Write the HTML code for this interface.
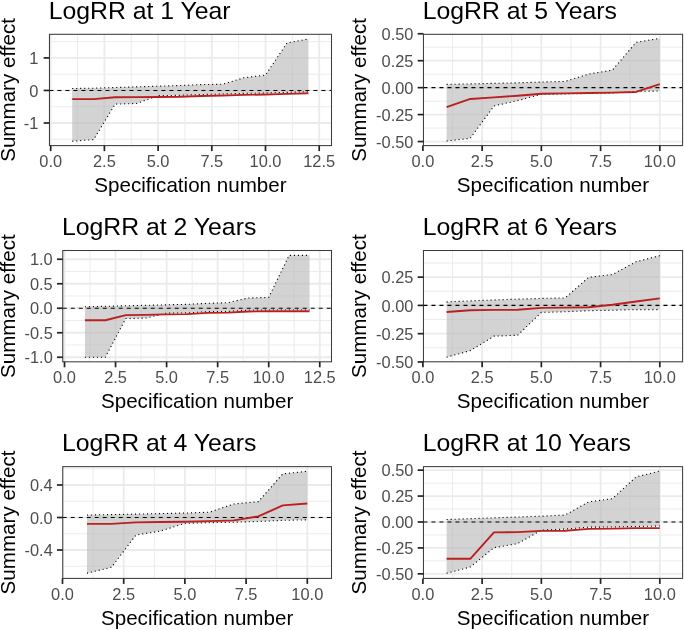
<!DOCTYPE html>
<html><head><meta charset="utf-8"><title>LogRR specification curves</title>
<style>html,body{margin:0;padding:0;background:#fff}svg{display:block;will-change:transform}text{font-family:"Liberation Sans",sans-serif}</style></head><body>
<svg width="685" height="630" viewBox="0 0 685 630">
<rect width="685" height="630" fill="#fff"/>
<g id="panel1">
<clipPath id="c0"><rect x="49.45" y="34.3" width="282.05" height="111.3"/></clipPath>
<g clip-path="url(#c0)">
<line x1="77.55" x2="77.55" y1="34.3" y2="145.6" stroke="#ebebeb" stroke-width="0.95"/>
<line x1="131.25" x2="131.25" y1="34.3" y2="145.6" stroke="#ebebeb" stroke-width="0.95"/>
<line x1="184.95" x2="184.95" y1="34.3" y2="145.6" stroke="#ebebeb" stroke-width="0.95"/>
<line x1="238.65" x2="238.65" y1="34.3" y2="145.6" stroke="#ebebeb" stroke-width="0.95"/>
<line x1="292.35" x2="292.35" y1="34.3" y2="145.6" stroke="#ebebeb" stroke-width="0.95"/>
<line y1="41.63" y2="41.63" x1="49.45" x2="331.5" stroke="#ebebeb" stroke-width="0.95"/>
<line y1="74.18" y2="74.18" x1="49.45" x2="331.5" stroke="#ebebeb" stroke-width="0.95"/>
<line y1="106.72" y2="106.72" x1="49.45" x2="331.5" stroke="#ebebeb" stroke-width="0.95"/>
<line y1="139.28" y2="139.28" x1="49.45" x2="331.5" stroke="#ebebeb" stroke-width="0.95"/>
<line x1="50.7" x2="50.7" y1="34.3" y2="145.6" stroke="#ebebeb" stroke-width="1.8"/>
<line x1="104.4" x2="104.4" y1="34.3" y2="145.6" stroke="#ebebeb" stroke-width="1.8"/>
<line x1="158.1" x2="158.1" y1="34.3" y2="145.6" stroke="#ebebeb" stroke-width="1.8"/>
<line x1="211.8" x2="211.8" y1="34.3" y2="145.6" stroke="#ebebeb" stroke-width="1.8"/>
<line x1="265.5" x2="265.5" y1="34.3" y2="145.6" stroke="#ebebeb" stroke-width="1.8"/>
<line x1="319.2" x2="319.2" y1="34.3" y2="145.6" stroke="#ebebeb" stroke-width="1.8"/>
<line y1="57.9" y2="57.9" x1="49.45" x2="331.5" stroke="#ebebeb" stroke-width="1.8"/>
<line y1="90.45" y2="90.45" x1="49.45" x2="331.5" stroke="#ebebeb" stroke-width="1.8"/>
<line y1="123" y2="123" x1="49.45" x2="331.5" stroke="#ebebeb" stroke-width="1.8"/>
<polygon points="72.18,88.56 93.66,88.17 115.14,87.52 136.62,86.87 158.1,86.22 179.58,85.57 201.06,84.59 222.54,84.27 244.02,77.76 265.5,75.15 286.98,42.93 308.46,39.02 308.46,91.75 286.98,92.4 265.5,93.05 244.02,93.38 222.54,94.03 201.06,94.52 179.58,95.33 158.1,95.66 136.62,103.47 115.14,104.12 93.66,139.6 72.18,141.23" fill="#b8b8b8" fill-opacity="0.62"/>
<line x1="49.45" x2="331.5" y1="90.45" y2="90.45" stroke="#000" stroke-width="1.1" stroke-dasharray="4 4"/>
<polyline points="72.18,88.56 93.66,88.17 115.14,87.52 136.62,86.87 158.1,86.22 179.58,85.57 201.06,84.59 222.54,84.27 244.02,77.76 265.5,75.15 286.98,42.93 308.46,39.02" fill="none" stroke="#000" stroke-width="1.1" stroke-dasharray="1.1 2.9"/>
<polyline points="72.18,141.23 93.66,139.6 115.14,104.12 136.62,103.47 158.1,95.66 179.58,95.33 201.06,94.52 222.54,94.03 244.02,93.38 265.5,93.05 286.98,92.4 308.46,91.75" fill="none" stroke="#000" stroke-width="1.1" stroke-dasharray="1.1 2.9"/>
<polyline points="72.18,99.08 93.66,99.08 115.14,97.29 136.62,97.12 158.1,96.96 179.58,96.8 201.06,95.98 222.54,95.5 244.02,94.84 265.5,94.52 286.98,93.87 308.46,93.22" fill="none" stroke="#ba2020" stroke-width="1.9" stroke-linejoin="round"/>
</g>
<rect x="49.45" y="34.3" width="282.05" height="111.3" fill="none" stroke="#3d3d3d" stroke-width="1.05"/>
<line x1="50.7" x2="50.7" y1="145.6" y2="151.1" stroke="#222" stroke-width="1.7"/>
<text x="50.7" y="167.1" font-size="16.4" fill="#4d4d4d" text-anchor="middle">0.0</text>
<line x1="104.4" x2="104.4" y1="145.6" y2="151.1" stroke="#222" stroke-width="1.7"/>
<text x="104.4" y="167.1" font-size="16.4" fill="#4d4d4d" text-anchor="middle">2.5</text>
<line x1="158.1" x2="158.1" y1="145.6" y2="151.1" stroke="#222" stroke-width="1.7"/>
<text x="158.1" y="167.1" font-size="16.4" fill="#4d4d4d" text-anchor="middle">5.0</text>
<line x1="211.8" x2="211.8" y1="145.6" y2="151.1" stroke="#222" stroke-width="1.7"/>
<text x="211.8" y="167.1" font-size="16.4" fill="#4d4d4d" text-anchor="middle">7.5</text>
<line x1="265.5" x2="265.5" y1="145.6" y2="151.1" stroke="#222" stroke-width="1.7"/>
<text x="265.5" y="167.1" font-size="16.4" fill="#4d4d4d" text-anchor="middle">10.0</text>
<line x1="319.2" x2="319.2" y1="145.6" y2="151.1" stroke="#222" stroke-width="1.7"/>
<text x="319.2" y="167.1" font-size="16.4" fill="#4d4d4d" text-anchor="middle">12.5</text>
<line y1="57.9" y2="57.9" x1="43.65" x2="49.45" stroke="#222" stroke-width="1.7"/>
<text x="38.45" y="64.1" font-size="16.4" fill="#4d4d4d" text-anchor="end">1</text>
<line y1="90.45" y2="90.45" x1="43.65" x2="49.45" stroke="#222" stroke-width="1.7"/>
<text x="38.45" y="96.65" font-size="16.4" fill="#4d4d4d" text-anchor="end">0</text>
<line y1="123" y2="123" x1="43.65" x2="49.45" stroke="#222" stroke-width="1.7"/>
<text x="38.45" y="129.2" font-size="16.4" fill="#4d4d4d" text-anchor="end">-1</text>
<text x="48.65" y="19" font-size="24.8" fill="#000">LogRR at 1 Year</text>
<text x="190.47" y="192.1" font-size="20.6" fill="#000" text-anchor="middle">Specification number</text>
<text transform="translate(14.9,89.95) rotate(-90)" font-size="20.6" fill="#000" text-anchor="middle">Summary effect</text>
</g>
<g id="panel2">
<clipPath id="c1"><rect x="423.45" y="34.3" width="259.15" height="111.3"/></clipPath>
<g clip-path="url(#c1)">
<line x1="452.51" x2="452.51" y1="34.3" y2="145.6" stroke="#ebebeb" stroke-width="0.95"/>
<line x1="511.74" x2="511.74" y1="34.3" y2="145.6" stroke="#ebebeb" stroke-width="0.95"/>
<line x1="570.96" x2="570.96" y1="34.3" y2="145.6" stroke="#ebebeb" stroke-width="0.95"/>
<line x1="630.19" x2="630.19" y1="34.3" y2="145.6" stroke="#ebebeb" stroke-width="0.95"/>
<line y1="47.23" y2="47.23" x1="423.45" x2="682.6" stroke="#ebebeb" stroke-width="0.95"/>
<line y1="74.18" y2="74.18" x1="423.45" x2="682.6" stroke="#ebebeb" stroke-width="0.95"/>
<line y1="101.12" y2="101.12" x1="423.45" x2="682.6" stroke="#ebebeb" stroke-width="0.95"/>
<line y1="128.07" y2="128.07" x1="423.45" x2="682.6" stroke="#ebebeb" stroke-width="0.95"/>
<line x1="422.9" x2="422.9" y1="34.3" y2="145.6" stroke="#ebebeb" stroke-width="1.8"/>
<line x1="482.12" x2="482.12" y1="34.3" y2="145.6" stroke="#ebebeb" stroke-width="1.8"/>
<line x1="541.35" x2="541.35" y1="34.3" y2="145.6" stroke="#ebebeb" stroke-width="1.8"/>
<line x1="600.58" x2="600.58" y1="34.3" y2="145.6" stroke="#ebebeb" stroke-width="1.8"/>
<line x1="659.8" x2="659.8" y1="34.3" y2="145.6" stroke="#ebebeb" stroke-width="1.8"/>
<line y1="33.75" y2="33.75" x1="423.45" x2="682.6" stroke="#ebebeb" stroke-width="1.8"/>
<line y1="60.7" y2="60.7" x1="423.45" x2="682.6" stroke="#ebebeb" stroke-width="1.8"/>
<line y1="87.65" y2="87.65" x1="423.45" x2="682.6" stroke="#ebebeb" stroke-width="1.8"/>
<line y1="114.6" y2="114.6" x1="423.45" x2="682.6" stroke="#ebebeb" stroke-width="1.8"/>
<line y1="141.55" y2="141.55" x1="423.45" x2="682.6" stroke="#ebebeb" stroke-width="1.8"/>
<polygon points="446.59,84.42 470.28,83.88 493.97,83.34 517.66,82.8 541.35,82.04 565.04,81.4 588.73,74.07 612.42,70.08 636.11,42.37 659.8,38.28 659.8,90.99 636.11,91.42 612.42,93.04 588.73,93.47 565.04,93.9 541.35,94.33 517.66,100.59 493.97,105.98 470.28,138.32 446.59,141.01" fill="#b8b8b8" fill-opacity="0.62"/>
<line x1="423.45" x2="682.6" y1="87.65" y2="87.65" stroke="#000" stroke-width="1.1" stroke-dasharray="4 4"/>
<polyline points="446.59,84.42 470.28,83.88 493.97,83.34 517.66,82.8 541.35,82.04 565.04,81.4 588.73,74.07 612.42,70.08 636.11,42.37 659.8,38.28" fill="none" stroke="#000" stroke-width="1.1" stroke-dasharray="1.1 2.9"/>
<polyline points="446.59,141.01 470.28,138.32 493.97,105.98 517.66,100.59 541.35,94.33 565.04,93.9 588.73,93.47 612.42,93.04 636.11,91.42 659.8,90.99" fill="none" stroke="#000" stroke-width="1.1" stroke-dasharray="1.1 2.9"/>
<polyline points="446.59,107.05 470.28,98.97 493.97,97.35 517.66,95.73 541.35,93.79 565.04,93.36 588.73,93.04 612.42,92.61 636.11,91.96 659.8,84.2" fill="none" stroke="#ba2020" stroke-width="1.9" stroke-linejoin="round"/>
</g>
<rect x="423.45" y="34.3" width="259.15" height="111.3" fill="none" stroke="#3d3d3d" stroke-width="1.05"/>
<line x1="422.9" x2="422.9" y1="145.6" y2="151.1" stroke="#222" stroke-width="1.7"/>
<text x="422.9" y="167.1" font-size="16.4" fill="#4d4d4d" text-anchor="middle">0.0</text>
<line x1="482.12" x2="482.12" y1="145.6" y2="151.1" stroke="#222" stroke-width="1.7"/>
<text x="482.12" y="167.1" font-size="16.4" fill="#4d4d4d" text-anchor="middle">2.5</text>
<line x1="541.35" x2="541.35" y1="145.6" y2="151.1" stroke="#222" stroke-width="1.7"/>
<text x="541.35" y="167.1" font-size="16.4" fill="#4d4d4d" text-anchor="middle">5.0</text>
<line x1="600.58" x2="600.58" y1="145.6" y2="151.1" stroke="#222" stroke-width="1.7"/>
<text x="600.58" y="167.1" font-size="16.4" fill="#4d4d4d" text-anchor="middle">7.5</text>
<line x1="659.8" x2="659.8" y1="145.6" y2="151.1" stroke="#222" stroke-width="1.7"/>
<text x="659.8" y="167.1" font-size="16.4" fill="#4d4d4d" text-anchor="middle">10.0</text>
<line y1="33.75" y2="33.75" x1="417.65" x2="423.45" stroke="#222" stroke-width="1.7"/>
<text x="413.45" y="39.95" font-size="16.4" fill="#4d4d4d" text-anchor="end">0.50</text>
<line y1="60.7" y2="60.7" x1="417.65" x2="423.45" stroke="#222" stroke-width="1.7"/>
<text x="413.45" y="66.9" font-size="16.4" fill="#4d4d4d" text-anchor="end">0.25</text>
<line y1="87.65" y2="87.65" x1="417.65" x2="423.45" stroke="#222" stroke-width="1.7"/>
<text x="413.45" y="93.85" font-size="16.4" fill="#4d4d4d" text-anchor="end">0.00</text>
<line y1="114.6" y2="114.6" x1="417.65" x2="423.45" stroke="#222" stroke-width="1.7"/>
<text x="413.45" y="120.8" font-size="16.4" fill="#4d4d4d" text-anchor="end">-0.25</text>
<line y1="141.55" y2="141.55" x1="417.65" x2="423.45" stroke="#222" stroke-width="1.7"/>
<text x="413.45" y="147.75" font-size="16.4" fill="#4d4d4d" text-anchor="end">-0.50</text>
<text x="422.65" y="19" font-size="24.8" fill="#000">LogRR at 5 Years</text>
<text x="553.02" y="192.1" font-size="20.6" fill="#000" text-anchor="middle">Specification number</text>
<text transform="translate(366.4,89.95) rotate(-90)" font-size="20.6" fill="#000" text-anchor="middle">Summary effect</text>
</g>
<g id="panel3">
<clipPath id="c2"><rect x="62.75" y="250.5" width="268.75" height="111.3"/></clipPath>
<g clip-path="url(#c2)">
<line x1="90.03" x2="90.03" y1="250.5" y2="361.8" stroke="#ebebeb" stroke-width="0.95"/>
<line x1="141.07" x2="141.07" y1="250.5" y2="361.8" stroke="#ebebeb" stroke-width="0.95"/>
<line x1="192.12" x2="192.12" y1="250.5" y2="361.8" stroke="#ebebeb" stroke-width="0.95"/>
<line x1="243.18" x2="243.18" y1="250.5" y2="361.8" stroke="#ebebeb" stroke-width="0.95"/>
<line x1="294.23" x2="294.23" y1="250.5" y2="361.8" stroke="#ebebeb" stroke-width="0.95"/>
<line y1="271.5" y2="271.5" x1="62.75" x2="331.5" stroke="#ebebeb" stroke-width="0.95"/>
<line y1="296" y2="296" x1="62.75" x2="331.5" stroke="#ebebeb" stroke-width="0.95"/>
<line y1="320.5" y2="320.5" x1="62.75" x2="331.5" stroke="#ebebeb" stroke-width="0.95"/>
<line y1="345" y2="345" x1="62.75" x2="331.5" stroke="#ebebeb" stroke-width="0.95"/>
<line x1="64.5" x2="64.5" y1="250.5" y2="361.8" stroke="#ebebeb" stroke-width="1.8"/>
<line x1="115.55" x2="115.55" y1="250.5" y2="361.8" stroke="#ebebeb" stroke-width="1.8"/>
<line x1="166.6" x2="166.6" y1="250.5" y2="361.8" stroke="#ebebeb" stroke-width="1.8"/>
<line x1="217.65" x2="217.65" y1="250.5" y2="361.8" stroke="#ebebeb" stroke-width="1.8"/>
<line x1="268.7" x2="268.7" y1="250.5" y2="361.8" stroke="#ebebeb" stroke-width="1.8"/>
<line x1="319.75" x2="319.75" y1="250.5" y2="361.8" stroke="#ebebeb" stroke-width="1.8"/>
<line y1="259.25" y2="259.25" x1="62.75" x2="331.5" stroke="#ebebeb" stroke-width="1.8"/>
<line y1="283.75" y2="283.75" x1="62.75" x2="331.5" stroke="#ebebeb" stroke-width="1.8"/>
<line y1="308.25" y2="308.25" x1="62.75" x2="331.5" stroke="#ebebeb" stroke-width="1.8"/>
<line y1="332.75" y2="332.75" x1="62.75" x2="331.5" stroke="#ebebeb" stroke-width="1.8"/>
<line y1="357.25" y2="357.25" x1="62.75" x2="331.5" stroke="#ebebeb" stroke-width="1.8"/>
<polygon points="84.92,306.78 105.34,306.29 125.76,305.8 146.18,305.31 166.6,304.82 187.02,304.33 207.44,303.35 227.86,302.66 248.28,297.96 268.7,297.47 289.12,255.33 309.54,255.33 309.54,310.06 289.12,310.06 268.7,310.06 248.28,310.21 227.86,311.44 207.44,311.68 187.02,312.9 166.6,313.15 146.18,318.05 125.76,318.54 105.34,357.25 84.92,357.25" fill="#b8b8b8" fill-opacity="0.62"/>
<line x1="62.75" x2="331.5" y1="308.25" y2="308.25" stroke="#000" stroke-width="1.1" stroke-dasharray="4 4"/>
<polyline points="84.92,306.78 105.34,306.29 125.76,305.8 146.18,305.31 166.6,304.82 187.02,304.33 207.44,303.35 227.86,302.66 248.28,297.96 268.7,297.47 289.12,255.33 309.54,255.33" fill="none" stroke="#000" stroke-width="1.1" stroke-dasharray="1.1 2.9"/>
<polyline points="84.92,357.25 105.34,357.25 125.76,318.54 146.18,318.05 166.6,313.15 187.02,312.9 207.44,311.68 227.86,311.44 248.28,310.21 268.7,310.06 289.12,310.06 309.54,310.06" fill="none" stroke="#000" stroke-width="1.1" stroke-dasharray="1.1 2.9"/>
<polyline points="84.92,320.25 105.34,320.25 125.76,315.11 146.18,314.87 166.6,314.38 187.02,314.13 207.44,312.9 227.86,312.66 248.28,311.44 268.7,311.29 289.12,311.29 309.54,311.29" fill="none" stroke="#ba2020" stroke-width="1.9" stroke-linejoin="round"/>
</g>
<rect x="62.75" y="250.5" width="268.75" height="111.3" fill="none" stroke="#3d3d3d" stroke-width="1.05"/>
<line x1="64.5" x2="64.5" y1="361.8" y2="367.3" stroke="#222" stroke-width="1.7"/>
<text x="64.5" y="383.3" font-size="16.4" fill="#4d4d4d" text-anchor="middle">0.0</text>
<line x1="115.55" x2="115.55" y1="361.8" y2="367.3" stroke="#222" stroke-width="1.7"/>
<text x="115.55" y="383.3" font-size="16.4" fill="#4d4d4d" text-anchor="middle">2.5</text>
<line x1="166.6" x2="166.6" y1="361.8" y2="367.3" stroke="#222" stroke-width="1.7"/>
<text x="166.6" y="383.3" font-size="16.4" fill="#4d4d4d" text-anchor="middle">5.0</text>
<line x1="217.65" x2="217.65" y1="361.8" y2="367.3" stroke="#222" stroke-width="1.7"/>
<text x="217.65" y="383.3" font-size="16.4" fill="#4d4d4d" text-anchor="middle">7.5</text>
<line x1="268.7" x2="268.7" y1="361.8" y2="367.3" stroke="#222" stroke-width="1.7"/>
<text x="268.7" y="383.3" font-size="16.4" fill="#4d4d4d" text-anchor="middle">10.0</text>
<line x1="319.75" x2="319.75" y1="361.8" y2="367.3" stroke="#222" stroke-width="1.7"/>
<text x="319.75" y="383.3" font-size="16.4" fill="#4d4d4d" text-anchor="middle">12.5</text>
<line y1="259.25" y2="259.25" x1="56.95" x2="62.75" stroke="#222" stroke-width="1.7"/>
<text x="52.75" y="265.45" font-size="16.4" fill="#4d4d4d" text-anchor="end">1.0</text>
<line y1="283.75" y2="283.75" x1="56.95" x2="62.75" stroke="#222" stroke-width="1.7"/>
<text x="52.75" y="289.95" font-size="16.4" fill="#4d4d4d" text-anchor="end">0.5</text>
<line y1="308.25" y2="308.25" x1="56.95" x2="62.75" stroke="#222" stroke-width="1.7"/>
<text x="52.75" y="314.45" font-size="16.4" fill="#4d4d4d" text-anchor="end">0.0</text>
<line y1="332.75" y2="332.75" x1="56.95" x2="62.75" stroke="#222" stroke-width="1.7"/>
<text x="52.75" y="338.95" font-size="16.4" fill="#4d4d4d" text-anchor="end">-0.5</text>
<line y1="357.25" y2="357.25" x1="56.95" x2="62.75" stroke="#222" stroke-width="1.7"/>
<text x="52.75" y="363.45" font-size="16.4" fill="#4d4d4d" text-anchor="end">-1.0</text>
<text x="61.95" y="235.2" font-size="24.8" fill="#000">LogRR at 2 Years</text>
<text x="197.12" y="408.3" font-size="20.6" fill="#000" text-anchor="middle">Specification number</text>
<text transform="translate(14.9,306.15) rotate(-90)" font-size="20.6" fill="#000" text-anchor="middle">Summary effect</text>
</g>
<g id="panel4">
<clipPath id="c3"><rect x="423.45" y="250.5" width="259.15" height="111.3"/></clipPath>
<g clip-path="url(#c3)">
<line x1="452.51" x2="452.51" y1="250.5" y2="361.8" stroke="#ebebeb" stroke-width="0.95"/>
<line x1="511.74" x2="511.74" y1="250.5" y2="361.8" stroke="#ebebeb" stroke-width="0.95"/>
<line x1="570.96" x2="570.96" y1="250.5" y2="361.8" stroke="#ebebeb" stroke-width="0.95"/>
<line x1="630.19" x2="630.19" y1="250.5" y2="361.8" stroke="#ebebeb" stroke-width="0.95"/>
<line y1="262.99" y2="262.99" x1="423.45" x2="682.6" stroke="#ebebeb" stroke-width="0.95"/>
<line y1="291.26" y2="291.26" x1="423.45" x2="682.6" stroke="#ebebeb" stroke-width="0.95"/>
<line y1="319.54" y2="319.54" x1="423.45" x2="682.6" stroke="#ebebeb" stroke-width="0.95"/>
<line y1="347.81" y2="347.81" x1="423.45" x2="682.6" stroke="#ebebeb" stroke-width="0.95"/>
<line x1="422.9" x2="422.9" y1="250.5" y2="361.8" stroke="#ebebeb" stroke-width="1.8"/>
<line x1="482.12" x2="482.12" y1="250.5" y2="361.8" stroke="#ebebeb" stroke-width="1.8"/>
<line x1="541.35" x2="541.35" y1="250.5" y2="361.8" stroke="#ebebeb" stroke-width="1.8"/>
<line x1="600.58" x2="600.58" y1="250.5" y2="361.8" stroke="#ebebeb" stroke-width="1.8"/>
<line x1="659.8" x2="659.8" y1="250.5" y2="361.8" stroke="#ebebeb" stroke-width="1.8"/>
<line y1="277.12" y2="277.12" x1="423.45" x2="682.6" stroke="#ebebeb" stroke-width="1.8"/>
<line y1="305.4" y2="305.4" x1="423.45" x2="682.6" stroke="#ebebeb" stroke-width="1.8"/>
<line y1="333.67" y2="333.67" x1="423.45" x2="682.6" stroke="#ebebeb" stroke-width="1.8"/>
<line y1="361.95" y2="361.95" x1="423.45" x2="682.6" stroke="#ebebeb" stroke-width="1.8"/>
<polygon points="446.59,301.89 470.28,300.88 493.97,299.97 517.66,299.18 541.35,298.39 565.04,297.94 588.73,277.35 612.42,274.52 636.11,261.74 659.8,255.64 659.8,309.58 636.11,309.58 612.42,310.26 588.73,310.72 565.04,311.73 541.35,312.41 517.66,335.26 493.97,336.16 470.28,350.64 446.59,357.2" fill="#b8b8b8" fill-opacity="0.62"/>
<line x1="423.45" x2="682.6" y1="305.4" y2="305.4" stroke="#000" stroke-width="1.1" stroke-dasharray="4 4"/>
<polyline points="446.59,301.89 470.28,300.88 493.97,299.97 517.66,299.18 541.35,298.39 565.04,297.94 588.73,277.35 612.42,274.52 636.11,261.74 659.8,255.64" fill="none" stroke="#000" stroke-width="1.1" stroke-dasharray="1.1 2.9"/>
<polyline points="446.59,357.2 470.28,350.64 493.97,336.16 517.66,335.26 541.35,312.41 565.04,311.73 588.73,310.72 612.42,310.26 636.11,309.58 659.8,309.58" fill="none" stroke="#000" stroke-width="1.1" stroke-dasharray="1.1 2.9"/>
<polyline points="446.59,311.96 470.28,310.26 493.97,309.92 517.66,309.81 541.35,307.89 565.04,307.66 588.73,307.21 612.42,304.72 636.11,301.44 659.8,298.39" fill="none" stroke="#ba2020" stroke-width="1.9" stroke-linejoin="round"/>
</g>
<rect x="423.45" y="250.5" width="259.15" height="111.3" fill="none" stroke="#3d3d3d" stroke-width="1.05"/>
<line x1="422.9" x2="422.9" y1="361.8" y2="367.3" stroke="#222" stroke-width="1.7"/>
<text x="422.9" y="383.3" font-size="16.4" fill="#4d4d4d" text-anchor="middle">0.0</text>
<line x1="482.12" x2="482.12" y1="361.8" y2="367.3" stroke="#222" stroke-width="1.7"/>
<text x="482.12" y="383.3" font-size="16.4" fill="#4d4d4d" text-anchor="middle">2.5</text>
<line x1="541.35" x2="541.35" y1="361.8" y2="367.3" stroke="#222" stroke-width="1.7"/>
<text x="541.35" y="383.3" font-size="16.4" fill="#4d4d4d" text-anchor="middle">5.0</text>
<line x1="600.58" x2="600.58" y1="361.8" y2="367.3" stroke="#222" stroke-width="1.7"/>
<text x="600.58" y="383.3" font-size="16.4" fill="#4d4d4d" text-anchor="middle">7.5</text>
<line x1="659.8" x2="659.8" y1="361.8" y2="367.3" stroke="#222" stroke-width="1.7"/>
<text x="659.8" y="383.3" font-size="16.4" fill="#4d4d4d" text-anchor="middle">10.0</text>
<line y1="277.12" y2="277.12" x1="417.65" x2="423.45" stroke="#222" stroke-width="1.7"/>
<text x="413.45" y="283.32" font-size="16.4" fill="#4d4d4d" text-anchor="end">0.25</text>
<line y1="305.4" y2="305.4" x1="417.65" x2="423.45" stroke="#222" stroke-width="1.7"/>
<text x="413.45" y="311.6" font-size="16.4" fill="#4d4d4d" text-anchor="end">0.00</text>
<line y1="333.67" y2="333.67" x1="417.65" x2="423.45" stroke="#222" stroke-width="1.7"/>
<text x="413.45" y="339.87" font-size="16.4" fill="#4d4d4d" text-anchor="end">-0.25</text>
<line y1="361.95" y2="361.95" x1="417.65" x2="423.45" stroke="#222" stroke-width="1.7"/>
<text x="413.45" y="368.15" font-size="16.4" fill="#4d4d4d" text-anchor="end">-0.50</text>
<text x="422.65" y="235.2" font-size="24.8" fill="#000">LogRR at 6 Years</text>
<text x="553.02" y="408.3" font-size="20.6" fill="#000" text-anchor="middle">Specification number</text>
<text transform="translate(366.4,306.15) rotate(-90)" font-size="20.6" fill="#000" text-anchor="middle">Summary effect</text>
</g>
<g id="panel5">
<clipPath id="c4"><rect x="62.75" y="466.65" width="268.75" height="111.75"/></clipPath>
<g clip-path="url(#c4)">
<line x1="93.1" x2="93.1" y1="466.65" y2="578.4" stroke="#ebebeb" stroke-width="0.95"/>
<line x1="154.3" x2="154.3" y1="466.65" y2="578.4" stroke="#ebebeb" stroke-width="0.95"/>
<line x1="215.5" x2="215.5" y1="466.65" y2="578.4" stroke="#ebebeb" stroke-width="0.95"/>
<line x1="276.7" x2="276.7" y1="466.65" y2="578.4" stroke="#ebebeb" stroke-width="0.95"/>
<line y1="468.75" y2="468.75" x1="62.75" x2="331.5" stroke="#ebebeb" stroke-width="0.95"/>
<line y1="501.25" y2="501.25" x1="62.75" x2="331.5" stroke="#ebebeb" stroke-width="0.95"/>
<line y1="533.75" y2="533.75" x1="62.75" x2="331.5" stroke="#ebebeb" stroke-width="0.95"/>
<line y1="566.25" y2="566.25" x1="62.75" x2="331.5" stroke="#ebebeb" stroke-width="0.95"/>
<line x1="62.5" x2="62.5" y1="466.65" y2="578.4" stroke="#ebebeb" stroke-width="1.8"/>
<line x1="123.7" x2="123.7" y1="466.65" y2="578.4" stroke="#ebebeb" stroke-width="1.8"/>
<line x1="184.9" x2="184.9" y1="466.65" y2="578.4" stroke="#ebebeb" stroke-width="1.8"/>
<line x1="246.1" x2="246.1" y1="466.65" y2="578.4" stroke="#ebebeb" stroke-width="1.8"/>
<line x1="307.3" x2="307.3" y1="466.65" y2="578.4" stroke="#ebebeb" stroke-width="1.8"/>
<line y1="485" y2="485" x1="62.75" x2="331.5" stroke="#ebebeb" stroke-width="1.8"/>
<line y1="517.5" y2="517.5" x1="62.75" x2="331.5" stroke="#ebebeb" stroke-width="1.8"/>
<line y1="550" y2="550" x1="62.75" x2="331.5" stroke="#ebebeb" stroke-width="1.8"/>
<polygon points="86.98,515.06 111.46,514.58 135.94,514.09 160.42,513.6 184.9,513.03 209.38,512.22 233.86,504.01 258.34,501.66 282.82,473.87 307.3,471.27 307.3,519.86 282.82,520.34 258.34,521.48 233.86,522.21 209.38,522.7 184.9,523.35 160.42,531.07 135.94,535.05 111.46,567.31 86.98,573.16" fill="#b8b8b8" fill-opacity="0.62"/>
<line x1="62.75" x2="331.5" y1="517.5" y2="517.5" stroke="#000" stroke-width="1.1" stroke-dasharray="4 4"/>
<polyline points="86.98,515.06 111.46,514.58 135.94,514.09 160.42,513.6 184.9,513.03 209.38,512.22 233.86,504.01 258.34,501.66 282.82,473.87 307.3,471.27" fill="none" stroke="#000" stroke-width="1.1" stroke-dasharray="1.1 2.9"/>
<polyline points="86.98,573.16 111.46,567.31 135.94,535.05 160.42,531.07 184.9,523.35 209.38,522.7 233.86,522.21 258.34,521.48 282.82,520.34 307.3,519.86" fill="none" stroke="#000" stroke-width="1.1" stroke-dasharray="1.1 2.9"/>
<polyline points="86.98,523.84 111.46,523.84 135.94,522.38 160.42,522.05 184.9,521.73 209.38,521.08 233.86,520.34 258.34,516.36 282.82,505.39 307.3,503.52" fill="none" stroke="#ba2020" stroke-width="1.9" stroke-linejoin="round"/>
</g>
<rect x="62.75" y="466.65" width="268.75" height="111.75" fill="none" stroke="#3d3d3d" stroke-width="1.05"/>
<line x1="62.5" x2="62.5" y1="578.4" y2="583.9" stroke="#222" stroke-width="1.7"/>
<text x="62.5" y="599.9" font-size="16.4" fill="#4d4d4d" text-anchor="middle">0.0</text>
<line x1="123.7" x2="123.7" y1="578.4" y2="583.9" stroke="#222" stroke-width="1.7"/>
<text x="123.7" y="599.9" font-size="16.4" fill="#4d4d4d" text-anchor="middle">2.5</text>
<line x1="184.9" x2="184.9" y1="578.4" y2="583.9" stroke="#222" stroke-width="1.7"/>
<text x="184.9" y="599.9" font-size="16.4" fill="#4d4d4d" text-anchor="middle">5.0</text>
<line x1="246.1" x2="246.1" y1="578.4" y2="583.9" stroke="#222" stroke-width="1.7"/>
<text x="246.1" y="599.9" font-size="16.4" fill="#4d4d4d" text-anchor="middle">7.5</text>
<line x1="307.3" x2="307.3" y1="578.4" y2="583.9" stroke="#222" stroke-width="1.7"/>
<text x="307.3" y="599.9" font-size="16.4" fill="#4d4d4d" text-anchor="middle">10.0</text>
<line y1="485" y2="485" x1="56.95" x2="62.75" stroke="#222" stroke-width="1.7"/>
<text x="52.75" y="491.2" font-size="16.4" fill="#4d4d4d" text-anchor="end">0.4</text>
<line y1="517.5" y2="517.5" x1="56.95" x2="62.75" stroke="#222" stroke-width="1.7"/>
<text x="52.75" y="523.7" font-size="16.4" fill="#4d4d4d" text-anchor="end">0.0</text>
<line y1="550" y2="550" x1="56.95" x2="62.75" stroke="#222" stroke-width="1.7"/>
<text x="52.75" y="556.2" font-size="16.4" fill="#4d4d4d" text-anchor="end">-0.4</text>
<text x="61.95" y="451.35" font-size="24.8" fill="#000">LogRR at 4 Years</text>
<text x="197.12" y="624.9" font-size="20.6" fill="#000" text-anchor="middle">Specification number</text>
<text transform="translate(14.9,522.52) rotate(-90)" font-size="20.6" fill="#000" text-anchor="middle">Summary effect</text>
</g>
<g id="panel6">
<clipPath id="c5"><rect x="423.45" y="466.65" width="259.15" height="111.75"/></clipPath>
<g clip-path="url(#c5)">
<line x1="452.51" x2="452.51" y1="466.65" y2="578.4" stroke="#ebebeb" stroke-width="0.95"/>
<line x1="511.74" x2="511.74" y1="466.65" y2="578.4" stroke="#ebebeb" stroke-width="0.95"/>
<line x1="570.96" x2="570.96" y1="466.65" y2="578.4" stroke="#ebebeb" stroke-width="0.95"/>
<line x1="630.19" x2="630.19" y1="466.65" y2="578.4" stroke="#ebebeb" stroke-width="0.95"/>
<line y1="483.11" y2="483.11" x1="423.45" x2="682.6" stroke="#ebebeb" stroke-width="0.95"/>
<line y1="509.04" y2="509.04" x1="423.45" x2="682.6" stroke="#ebebeb" stroke-width="0.95"/>
<line y1="534.96" y2="534.96" x1="423.45" x2="682.6" stroke="#ebebeb" stroke-width="0.95"/>
<line y1="560.89" y2="560.89" x1="423.45" x2="682.6" stroke="#ebebeb" stroke-width="0.95"/>
<line x1="422.9" x2="422.9" y1="466.65" y2="578.4" stroke="#ebebeb" stroke-width="1.8"/>
<line x1="482.12" x2="482.12" y1="466.65" y2="578.4" stroke="#ebebeb" stroke-width="1.8"/>
<line x1="541.35" x2="541.35" y1="466.65" y2="578.4" stroke="#ebebeb" stroke-width="1.8"/>
<line x1="600.58" x2="600.58" y1="466.65" y2="578.4" stroke="#ebebeb" stroke-width="1.8"/>
<line x1="659.8" x2="659.8" y1="466.65" y2="578.4" stroke="#ebebeb" stroke-width="1.8"/>
<line y1="470.15" y2="470.15" x1="423.45" x2="682.6" stroke="#ebebeb" stroke-width="1.8"/>
<line y1="496.07" y2="496.07" x1="423.45" x2="682.6" stroke="#ebebeb" stroke-width="1.8"/>
<line y1="522" y2="522" x1="423.45" x2="682.6" stroke="#ebebeb" stroke-width="1.8"/>
<line y1="547.92" y2="547.92" x1="423.45" x2="682.6" stroke="#ebebeb" stroke-width="1.8"/>
<line y1="573.85" y2="573.85" x1="423.45" x2="682.6" stroke="#ebebeb" stroke-width="1.8"/>
<polygon points="446.59,519.51 470.28,518.68 493.97,517.85 517.66,517.02 541.35,516.19 565.04,515.05 588.73,501.88 612.42,498.67 636.11,476.89 659.8,471.08 659.8,526.04 636.11,526.46 612.42,526.98 588.73,527.18 565.04,529.05 541.35,530.19 517.66,543.57 493.97,547.72 470.28,567.01 446.59,573.33" fill="#b8b8b8" fill-opacity="0.62"/>
<line x1="423.45" x2="682.6" y1="522" y2="522" stroke="#000" stroke-width="1.1" stroke-dasharray="4 4"/>
<polyline points="446.59,519.51 470.28,518.68 493.97,517.85 517.66,517.02 541.35,516.19 565.04,515.05 588.73,501.88 612.42,498.67 636.11,476.89 659.8,471.08" fill="none" stroke="#000" stroke-width="1.1" stroke-dasharray="1.1 2.9"/>
<polyline points="446.59,573.33 470.28,567.01 493.97,547.72 517.66,543.57 541.35,530.19 565.04,529.05 588.73,527.18 612.42,526.98 636.11,526.46 659.8,526.04" fill="none" stroke="#000" stroke-width="1.1" stroke-dasharray="1.1 2.9"/>
<polyline points="446.59,558.81 470.28,558.81 493.97,532.37 517.66,532.16 541.35,530.92 565.04,530.71 588.73,528.84 612.42,528.64 636.11,528.12 659.8,528.12" fill="none" stroke="#ba2020" stroke-width="1.9" stroke-linejoin="round"/>
</g>
<rect x="423.45" y="466.65" width="259.15" height="111.75" fill="none" stroke="#3d3d3d" stroke-width="1.05"/>
<line x1="422.9" x2="422.9" y1="578.4" y2="583.9" stroke="#222" stroke-width="1.7"/>
<text x="422.9" y="599.9" font-size="16.4" fill="#4d4d4d" text-anchor="middle">0.0</text>
<line x1="482.12" x2="482.12" y1="578.4" y2="583.9" stroke="#222" stroke-width="1.7"/>
<text x="482.12" y="599.9" font-size="16.4" fill="#4d4d4d" text-anchor="middle">2.5</text>
<line x1="541.35" x2="541.35" y1="578.4" y2="583.9" stroke="#222" stroke-width="1.7"/>
<text x="541.35" y="599.9" font-size="16.4" fill="#4d4d4d" text-anchor="middle">5.0</text>
<line x1="600.58" x2="600.58" y1="578.4" y2="583.9" stroke="#222" stroke-width="1.7"/>
<text x="600.58" y="599.9" font-size="16.4" fill="#4d4d4d" text-anchor="middle">7.5</text>
<line x1="659.8" x2="659.8" y1="578.4" y2="583.9" stroke="#222" stroke-width="1.7"/>
<text x="659.8" y="599.9" font-size="16.4" fill="#4d4d4d" text-anchor="middle">10.0</text>
<line y1="470.15" y2="470.15" x1="417.65" x2="423.45" stroke="#222" stroke-width="1.7"/>
<text x="413.45" y="476.35" font-size="16.4" fill="#4d4d4d" text-anchor="end">0.50</text>
<line y1="496.07" y2="496.07" x1="417.65" x2="423.45" stroke="#222" stroke-width="1.7"/>
<text x="413.45" y="502.27" font-size="16.4" fill="#4d4d4d" text-anchor="end">0.25</text>
<line y1="522" y2="522" x1="417.65" x2="423.45" stroke="#222" stroke-width="1.7"/>
<text x="413.45" y="528.2" font-size="16.4" fill="#4d4d4d" text-anchor="end">0.00</text>
<line y1="547.92" y2="547.92" x1="417.65" x2="423.45" stroke="#222" stroke-width="1.7"/>
<text x="413.45" y="554.12" font-size="16.4" fill="#4d4d4d" text-anchor="end">-0.25</text>
<line y1="573.85" y2="573.85" x1="417.65" x2="423.45" stroke="#222" stroke-width="1.7"/>
<text x="413.45" y="580.05" font-size="16.4" fill="#4d4d4d" text-anchor="end">-0.50</text>
<text x="422.65" y="451.35" font-size="24.8" fill="#000">LogRR at 10 Years</text>
<text x="553.02" y="624.9" font-size="20.6" fill="#000" text-anchor="middle">Specification number</text>
<text transform="translate(366.4,522.52) rotate(-90)" font-size="20.6" fill="#000" text-anchor="middle">Summary effect</text>
</g>
</svg></body></html>
